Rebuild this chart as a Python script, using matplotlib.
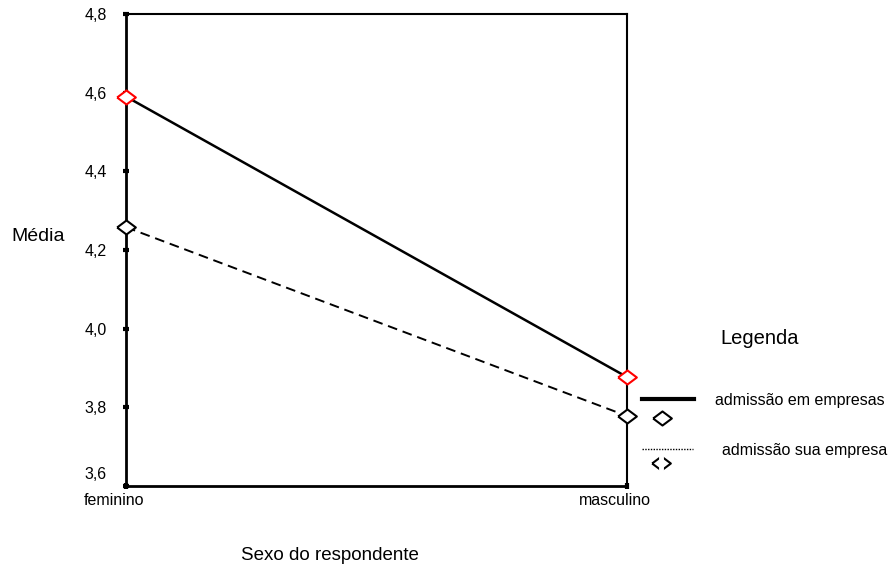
import matplotlib.pyplot as plt
import matplotlib.transforms as mtransforms
from matplotlib.lines import Line2D

plt.rcParams['font.family'] = ['Liberation Sans', 'DejaVu Sans']

categorias = ['feminino', 'masculino']
em_empresas = [4.59, 3.877]
sua_empresa = [4.258, 3.778]
yticks = [3.6, 3.8, 4.0, 4.2, 4.4, 4.6, 4.8]

W, H = 893, 573
diamante = [(-1, 0), (0, 0.75), (1, 0), (0, -0.75), (-1, 0)]


def fx(px):
    return px / W


def fy(py):
    return 1 - py / H


fig = plt.figure(figsize=(W / 100, H / 100), dpi=100)
ax = fig.add_axes([fx(126), fy(486), (627 - 126) / W, (486 - 14) / H])

x = range(len(categorias))
ax.plot(x, em_empresas, color='black', lw=1.8, zorder=2)
ax.plot(x, sua_empresa, color='black', lw=1.4, ls=(0, (5, 3)), zorder=2)
ax.plot(x, em_empresas, ls='none', marker=diamante, ms=13.5, mfc='white', mec='red', mew=1.5,
        zorder=3, clip_on=False)
ax.plot(x, sua_empresa, ls='none', marker=diamante, ms=13.5, mfc='white', mec='black', mew=1.5,
        zorder=3, clip_on=False)

ax.set_xlim(0, 1)
ax.set_ylim(3.6, 4.8)
ax.set_xticks(list(x))
ax.set_xticklabels(categorias, fontsize=11.5)
ax.set_yticks(yticks)
ax.set_yticklabels([f'{v:.1f}'.replace('.', ',') for v in yticks], fontsize=11.5)
ax.tick_params(axis='both', length=4, width=3, direction='inout')
ax.tick_params(axis='y', pad=12)
ax.tick_params(axis='x', pad=3)
desloc = mtransforms.ScaledTranslation(-12 / 100, 0, fig.dpi_scale_trans)
for lab in ax.get_xticklabels():
    lab.set_transform(lab.get_transform() + desloc)
# o rótulo 3,6 fica um pouco acima da marca
sobe = mtransforms.ScaledTranslation(0, 13 / 100, fig.dpi_scale_trans)
lab0 = ax.get_yticklabels()[0]
lab0.set_transform(lab0.get_transform() + sobe)
for s in ax.spines.values():
    s.set_linewidth(1.5)
ax.spines['left'].set_linewidth(2)
ax.spines['bottom'].set_linewidth(2)

fig.text(fx(38.5), fy(236), 'Média', fontsize=14, ha='center', va='center')
fig.text(fx(330), fy(555), 'Sexo do respondente', fontsize=13.5, ha='center', va='center')

# legenda
fig.text(fx(760), fy(339), 'Legenda', fontsize=14.5, ha='center', va='center')
fig.add_artist(Line2D([fx(642), fx(694)], [fy(399)] * 2, color='black', lw=3))
fig.text(fx(715), fy(401), 'admissão em empresas', fontsize=11.5, va='center')
fig.add_artist(Line2D([fx(662)], [fy(418)], ls='none', marker=diamante, ms=13.5,
                      mfc='none', mec='black', mew=1.5))
fig.add_artist(Line2D([fx(642), fx(693)], [fy(449)] * 2, color='black', lw=1,
                      ls=(0, (1, 1))))
fig.text(fx(722), fy(450), 'admissão sua empresa', fontsize=11.5, va='center')
fig.add_artist(Line2D([fx(661)], [fy(463)], ls='none', marker=diamante, ms=13.5,
                      mfc='none', mec='black', mew=1.5))
# o segundo losango aparece interrompido em cima e em baixo
fig.add_artist(Line2D([fx(661)] * 2, [fy(453), fy(474)], color='white', lw=3.5,
                      solid_capstyle='butt'))

fig.savefig('out.png', dpi=100)
